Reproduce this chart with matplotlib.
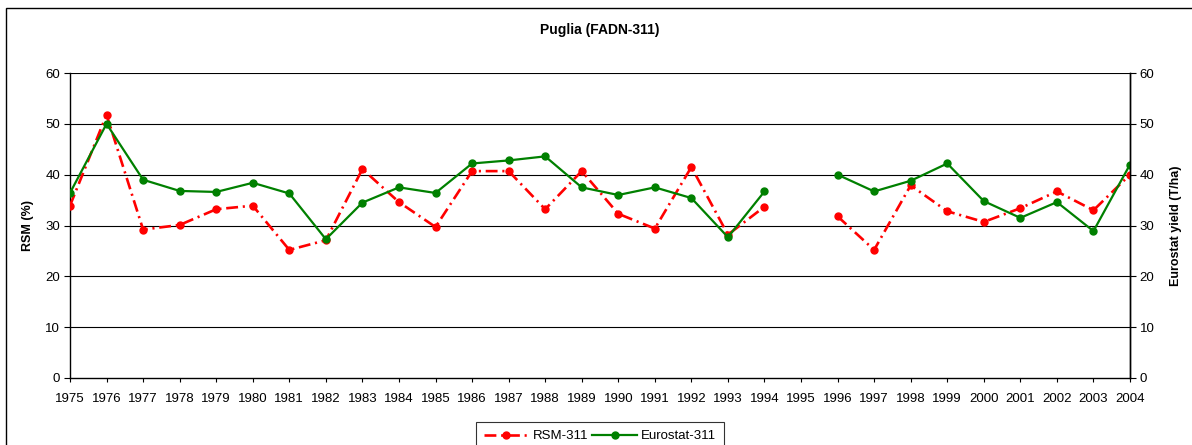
import numpy as np
import matplotlib
matplotlib.use("Agg")
import matplotlib.pyplot as plt
from matplotlib.patches import Rectangle

plt.rcParams['font.family'] = ['Liberation Sans', 'DejaVu Sans']

years = [str(y) for y in range(1975, 2005)]
rsm_311 = [33.9, 51.8, 29.2, 30.1, 33.2, 33.9, 25.2, 27.1, 41.1, 34.6,
           29.7, 40.7, 40.7, 33.2, 40.7, 32.3, 29.4, 41.5, 28.2, 33.7,
           np.nan, 31.8, 25.2, 37.9, 32.8, 30.7, 33.4, 36.7, 33.0, 40.0]
eurostat_311 = [36.4, 50.0, 39.0, 36.8, 36.6, 38.4, 36.3, 27.3, 34.5, 37.5,
                36.4, 42.2, 42.8, 43.6, 37.5, 36.0, 37.5, 35.4, 27.7, 36.7,
                np.nan, 40.0, 36.7, 38.8, 42.2, 34.8, 31.5, 34.6, 28.9, 42.0]
y_ticks = [0, 10, 20, 30, 40, 50, 60]

W, H = 1192, 445
fig = plt.figure(figsize=(W / 100, H / 100), dpi=100)
fig.patch.set_facecolor('white')

# outer chart border (left and top visible)
fig.add_artist(Rectangle((6 / W, -0.1), 1.2, 1 - 8 / H + 0.1, transform=fig.transFigure,
                         fill=False, edgecolor='black', linewidth=1.0))

ax = fig.add_axes([70 / W, 1 - 378 / H, (1130 - 70) / W, (378 - 73) / H])
x = np.arange(len(years))

ax.set_xlim(0, len(years) - 1)
ax.set_ylim(0, 60)
ax.set_yticks(y_ticks)
ax.set_xticks(x)
ax.set_xticklabels(years)
for v in y_ticks[1:]:
    ax.axhline(v, color='black', linewidth=0.8, zorder=1)

ax.plot(x, rsm_311, color='#ff0000', linewidth=1.9,
        dashes=(4.5, 1.8, 0.8, 1.8), marker='o', markersize=5,
        markeredgecolor='#ff0000', markerfacecolor='#ff0000', zorder=3, label='RSM-311')
ax.plot(x, eurostat_311, color='#008000', linewidth=1.6, marker='o', markersize=5,
        markeredgecolor='#008000', markerfacecolor='#008000', zorder=4, label='Eurostat-311')

ax.spines['top'].set_visible(False)
for s in ['left', 'bottom', 'right']:
    ax.spines[s].set_linewidth(1.0)
    ax.spines[s].set_color('black')
ax.tick_params(axis='y', direction='out', length=4, width=0.8, labelsize=9.5,
               colors='black', pad=3)
ax.tick_params(axis='x', direction='out', length=3, width=0.8, labelsize=9.5,
               colors='black', pad=8)
ax.set_ylabel('RSM (%)', fontsize=9, fontweight='bold', labelpad=8)

ax2 = ax.twinx()
ax2.set_ylim(0, 60)
ax2.set_yticks(y_ticks)
ax2.spines['top'].set_visible(False)
ax2.spines['left'].set_visible(False)
ax2.spines['bottom'].set_visible(False)
ax2.spines['right'].set_linewidth(1.0)
ax2.tick_params(axis='y', direction='out', length=4, width=0.8, labelsize=9.5, pad=3)
ax2.set_ylabel('Eurostat yield (T/ha)', fontsize=9, fontweight='bold', labelpad=11)

fig.text(600 / W, 1 - 30 / H, 'Puglia (FADN-311)', ha='center', va='center',
         fontsize=10, fontweight='bold')

handles, labels = ax.get_legend_handles_labels()
leg = fig.legend(handles, labels, loc='upper center', bbox_to_anchor=(600 / W, 1 - 422 / H),
                 ncol=2, fontsize=9.5, frameon=True, fancybox=False, edgecolor='black',
                 handlelength=3.4, handletextpad=0.3, columnspacing=0.3,
                 borderpad=0.6, borderaxespad=0)
leg.get_frame().set_linewidth(0.8)

fig.savefig('out.png', dpi=100, facecolor='white')
